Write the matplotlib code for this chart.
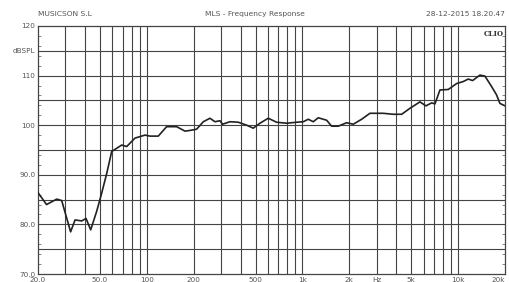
import matplotlib
matplotlib.use("Agg")
import matplotlib.pyplot as plt
import numpy as np

# frequency response
freq = [20, 22.7, 26.4, 28.4, 32.4, 34.6, 38.2, 40.7, 43.6, 47.6, 51.3, 55.3, 59.5,
        69.0, 74.3, 84, 97.3, 104.8, 118.5, 134, 155.5, 176, 194, 209, 230.6,
        254.5, 274, 295, 307, 342, 387, 438, 483, 533, 603, 682, 791, 918, 1012,
        1089, 1173, 1263, 1360, 1430, 1539, 1697, 1922, 2120, 2400, 2712, 3303,
        3829, 4336, 4900, 5680, 6210, 6760, 7096, 7640, 8640, 9780, 10780, 11610,
        12390, 13800, 14860, 16400, 17660, 18540, 20000]
spl = [86.4, 84.0, 85.1, 84.8, 78.5, 80.9, 80.7, 81.2, 78.9, 82.6, 86.3, 90.3, 94.7,
       96.0, 95.7, 97.4, 98.0, 97.8, 97.8, 99.7, 99.7, 98.8, 99.0, 99.2, 100.7,
       101.4, 100.7, 100.9, 100.2, 100.7, 100.6, 100.0, 99.4, 100.4, 101.4, 100.6,
       100.4, 100.6, 100.7, 101.2, 100.7, 101.5, 101.2, 101.0, 99.8, 99.8, 100.5,
       100.2, 101.2, 102.4, 102.4, 102.2, 102.2, 103.4, 104.7, 103.9, 104.5, 104.3,
       107.1, 107.2, 108.4, 108.8, 109.3, 109.0, 110.1, 109.9, 107.8, 106.1, 104.4,
       103.9]

xtick_vals = [20, 50, 100, 200, 500, 1000, 2000, 3000, 5000, 10000, 20000]
xtick_labels = ["20.0", "50.0", "100", "200", "500", "1k", "2k", "Hz", "5k", "10k", "20k"]
ytick_vals = [70, 75, 80, 85, 90, 95, 100, 105, 110, 115, 120]
ytick_labels = ["70.0", "", "80.0", "", "90.0", "", "100", "", "110", "dBSPL", "120"]

grid_col = "#444444"
txt_col = "#555555"

fig = plt.figure(figsize=(5.1, 2.82), dpi=100)
fig.patch.set_facecolor("white")
ax = fig.add_axes([38 / 510, 1 - 274 / 282, 467 / 510, 248 / 282])

ax.semilogx(freq, spl, color="#222222", linewidth=1.2, zorder=3)

ax.set_xlim(20, 20000)
ax.set_ylim(70, 120)

# vertical grid on every 1..9 multiple, horizontal every 5 dB
vlines = [m * 10 ** e for e in range(1, 5) for m in range(1, 10)]
for v in vlines:
    if 20 < v < 20000:
        ax.axvline(v, color=grid_col, linewidth=0.8, zorder=1)
for h in ytick_vals[1:-1]:
    ax.axhline(h, color=grid_col, linewidth=0.8, zorder=1)

ax.set_xticks(xtick_vals)
ax.set_xticklabels(xtick_labels)
ax.xaxis.set_minor_locator(matplotlib.ticker.NullLocator())
ax.set_yticks(ytick_vals)
ax.set_yticklabels(ytick_labels)
ax.set_yticks(np.arange(70, 121, 2), minor=True)
ax.tick_params(axis="both", which="major", length=0, labelsize=5.2, colors=txt_col, pad=2)
ax.tick_params(axis="y", which="minor", direction="in", length=2, width=0.5,
               color=txt_col, left=True, right=True)
ax.tick_params(axis="x", pad=2)
ax.get_xticklabels()[-1].set_horizontalalignment("right")

for s in ax.spines.values():
    s.set_color(grid_col)
    s.set_linewidth(0.9)

ax.text(0.997, 0.985, "CLIO", transform=ax.transAxes, ha="right", va="top",
        fontsize=5, fontweight="bold", family="DejaVu Serif", color="#333333")

fig.text(38 / 510, 1 - 14 / 282, "MUSICSON S.L", ha="left", va="center",
         fontsize=5.4, color=txt_col)
fig.text(255 / 510, 1 - 14 / 282, "MLS - Frequency Response", ha="center", va="center",
         fontsize=5.4, color=txt_col)
fig.text(505 / 510, 1 - 14 / 282, "28-12-2015 18.20.47", ha="right", va="center",
         fontsize=5.4, color=txt_col)

fig.savefig("out.png", dpi=100)
